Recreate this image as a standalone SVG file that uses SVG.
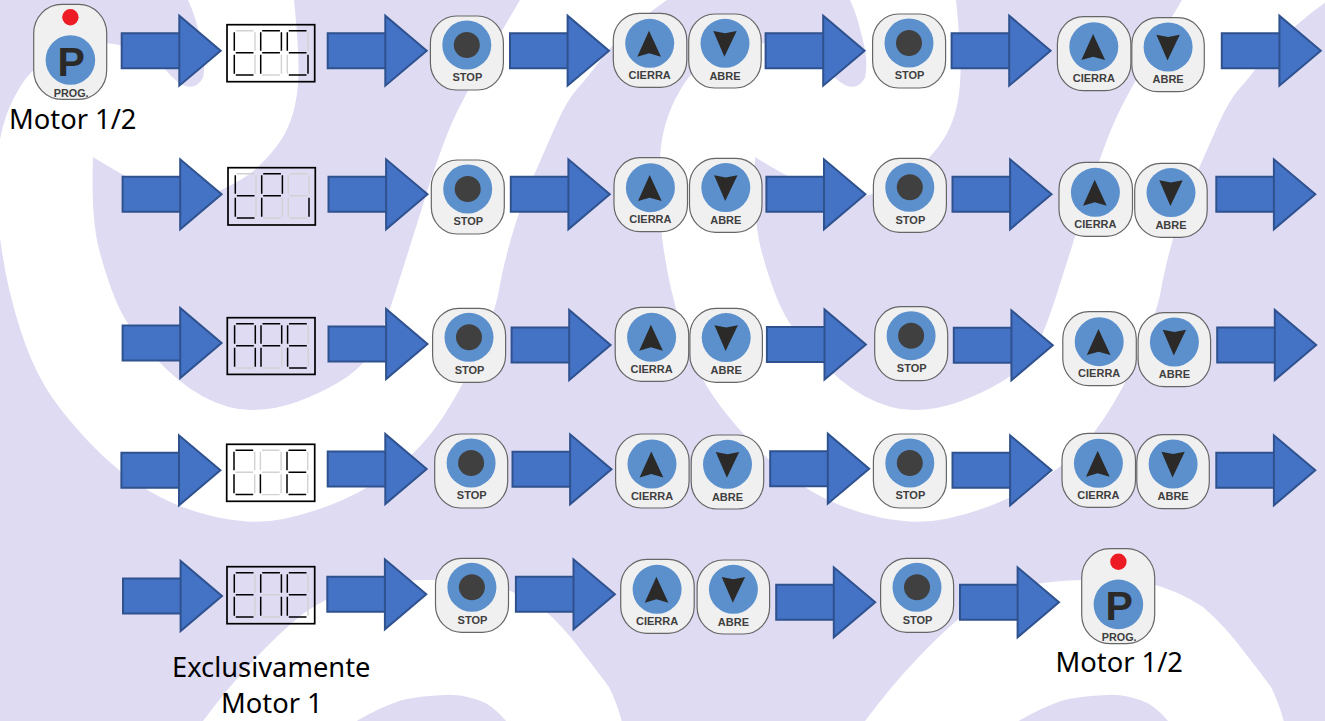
<svg xmlns="http://www.w3.org/2000/svg" width="1325" height="721" viewBox="0 0 1325 721">
<style>
.arr{fill:#4472c4;stroke:#2f528f;stroke-width:2;stroke-linejoin:miter}
.btn{fill:#f0f0f0;stroke:#666;stroke-width:1.2}
.blue{fill:#5b90cc}
.dark{fill:#404040}
.tri{fill:#2b2a29}
.red{fill:#ed1c24}
.lbl{font-family:"Liberation Sans",Arial,sans-serif;font-weight:700;font-size:11px;fill:#3f3f3f;text-anchor:middle}
.pg{font-family:"Liberation Sans",Arial,sans-serif;font-weight:700;font-size:41px;fill:#2b2a29;text-anchor:middle}
.cap{font-family:"Noto Sans",sans-serif;font-size:27.300px;fill:#000}
.frame{fill:none;stroke:#000;stroke-width:1.7}
.on{fill:none;stroke:#000;stroke-width:1.5}
.off{fill:none;stroke:#d2d2d2;stroke-width:1.4}
</style>
<defs>
<path id="tile" d="M188 0L188 -2L294 -2L294 0Q299 50 298.5 73.5Q298 97 292.5 115Q287 133 276.5 146.5Q266 160 254.5 170Q243 180 221 190Q199 200 179.5 196.5Q160 193 141 184Q122 175 93 157Q91 217 98.500 247Q106 277 116.500 302Q127 327 152.500 355Q178 383 203 396.500Q228 410 251.500 410Q275 410 298 401.500Q321 393 340 381.500Q359 370 369.500 355Q380 340 394 296.500Q408 253 424 201.500Q440 150 452.500 121.500Q465 93 520 0L520 -2L667 -2L667 0L653 10Q615 40 601.500 58.500Q588 77 577.500 88.500Q567 100 556 125Q545 150 532.500 178.500Q520 207 511.500 237Q503 267 499 290Q495 313 478 351.500Q461 390 442 418.500Q423 447 397.500 467Q372 487 342.500 500Q313 513 283.500 519Q254 525 218 517.500Q182 510 150 491.500Q118 473 88.500 441.500Q59 410 44.500 385.500Q30 361 19 325.500Q8 290 2.500 255Q-3 220 -3 195Q-3 170 -1.500 151.500Q0 133 6.500 115Q13 97 24 81Q35 65 60 54Q85 43 107 43Q140 47 160 62Q172 80 184 85.500Q196 90 203 78Q207 60 199 33Q195 15 188 0Z"/>
<path id="tile2" d="M203 722L203 721Q230 685 254 660Q280 632 304 613Q330 595 359 587Q390 580 423 580Q460 579 486 583Q515 590 541 607Q565 628 583 653Q598 672 609 687Q617 703 622 722L507 722Q492 704 478 700Q460 694 444 695Q420 696 402 700Q378 708 355 722Z"/>
<path id="arrow" class="arr" d="M0 17.500H57.600V-35L99 0L57.600 35V-17.500H0Z"/>
<g id="stopF"><rect class="btn" width="73" height="74" rx="26" ry="27"/><circle class="blue" cx="36.400" cy="29" r="24.500"/><circle class="dark" cx="36.400" cy="29" r="13"/></g>
<g id="upF"><rect class="btn" width="73.500" height="74" rx="26" ry="27"/><circle class="blue" cx="36.400" cy="30" r="24.500"/><path class="tri" d="M35.700 17.400L24 43.400L35.700 40L47.700 43.400Z"/></g>
<g id="dnF"><rect class="btn" width="72.500" height="74" rx="26" ry="27"/><circle class="blue" cx="36.300" cy="29.300" r="24.500"/><path class="tri" d="M24.600 17L36.300 19.300L48 17L35.700 42.700Z"/></g>
<g id="progF"><rect class="btn" width="73" height="95" rx="28" ry="29"/><circle class="red" cx="36.700" cy="13" r="8.200"/><circle class="blue" cx="36.700" cy="55.700" r="24.800"/></g>
<g id="dt"><path class="off" d="M1.500 0H19.200M20.700 1.500V20M20.700 24V43"/><path class="on" d="M1.500 22H19.200M1.500 44.300H19.200M0 1.500V20M0 24V43"/></g>
<g id="dP"><path class="off" d="M20.700 24V43M1.500 44.300H19.200"/><path class="on" d="M1.500 0H19.200M1.500 22H19.200M20.700 1.500V20M0 1.500V20M0 24V43"/></g>
<g id="dS"><path class="off" d="M20.700 1.500V20M0 24V43"/><path class="on" d="M1.500 0H19.200M1.500 22H19.200M1.500 44.300H19.200M0 1.500V20M20.700 24V43"/></g>
<g id="dc"><path class="off" d="M1.500 0H19.200M1.500 22H19.200M1.500 44.300H19.200M0 1.500V20M0 24V43M20.700 1.500V20"/><path class="on" d="M20.700 24V43"/></g>
<g id="dA"><path class="off" d="M1.500 44.300H19.200"/><path class="on" d="M1.500 0H19.200M1.500 22H19.200M0 1.500V20M0 24V43M20.700 1.500V20M20.700 24V43"/></g>
<g id="dE"><path class="off" d="M20.700 1.500V20M20.700 24V43"/><path class="on" d="M1.500 0H19.200M1.500 22H19.200M1.500 44.300H19.200M0 1.500V20M0 24V43"/></g>
<g id="dC"><path class="off" d="M1.500 22H19.200M20.700 1.500V20M20.700 24V43"/><path class="on" d="M1.500 0H19.200M1.500 44.300H19.200M0 1.500V20M0 24V43"/></g>
<g id="de"><path class="off" d="M1.500 0H19.200M1.500 22H19.200M1.500 44.300H19.200M0 1.500V20M20.700 1.500V20M20.700 24V43"/><path class="on" d="M0 24V43"/></g>
<g id="dn"><path class="off" d="M1.500 22H19.200M1.500 44.300H19.200"/><path class="on" d="M1.500 0H19.200M0 1.500V20M0 24V43M20.700 1.500V20M20.700 24V43"/></g>
</defs>

<g id="background">
<rect width="1325" height="721" fill="#dedbf3"/>
<g fill="#fff">
<use href="#tile"/><use href="#tile" x="662"/><use href="#tile2"/><use href="#tile2" x="662"/>
</g>
</g>

<g id="connectors">
<use href="#arrow" x="121.700" y="50.700"/><use href="#arrow" x="327.700" y="50.700"/><use href="#arrow" x="510" y="50.700"/><use href="#arrow" x="765.600" y="50.700"/><use href="#arrow" x="951.600" y="50.700"/><use href="#arrow" x="1221.800" y="50.700"/>
<use href="#arrow" x="122.600" y="194.300"/><use href="#arrow" x="328.500" y="194.300"/><use href="#arrow" x="510.800" y="194.300"/><use href="#arrow" x="766.400" y="194.300"/><use href="#arrow" x="952.500" y="194.300"/><use href="#arrow" x="1216.300" y="194.300"/>
<use href="#arrow" x="122.600" y="343"/><use href="#arrow" x="328.500" y="344"/><use href="#arrow" x="511.600" y="345"/><use href="#arrow" x="766.900" y="344.500"/><use href="#arrow" x="953.800" y="345.300"/><use href="#arrow" x="1217.200" y="345"/>
<use href="#arrow" x="121.400" y="470.300"/><use href="#arrow" x="327.700" y="469"/><use href="#arrow" x="512.500" y="469.300"/><use href="#arrow" x="770.200" y="468.700"/><use href="#arrow" x="952.500" y="470.300"/><use href="#arrow" x="1216.300" y="470.300"/>
<use href="#arrow" x="123" y="596"/><use href="#arrow" x="327.300" y="594.300"/><use href="#arrow" x="515.900" y="594.300"/><use href="#arrow" x="776.200" y="602.300"/><use href="#arrow" x="960" y="602.300"/>
</g>

<g id="prog-1" transform="translate(33.700 4.300)"><use href="#progF"/><text class="pg" x="37.500" y="71.500">P</text><text class="lbl" x="37.500" y="92.500" style="font-size:10.800px">PROG.</text></g>
<g id="display-1" transform="translate(227 24.700)"><rect class="frame" width="87.700" height="57"/><use href="#dt" x="7.300" y="6"/><use href="#dP" x="33.700" y="6"/><use href="#dS" x="60.300" y="6"/></g>
<g id="stop-1-1" transform="translate(430.400 16)"><use href="#stopF"/><text class="lbl" x="37" y="65.300">STOP</text></g>
<g id="cierra-1-1" transform="translate(613.300 13.300)"><use href="#upF"/><text class="lbl" x="36.400" y="65.500">CIERRA</text></g>
<g id="abre-1-1" transform="translate(688.700 14)"><use href="#dnF"/><text class="lbl" x="36.300" y="65.500">ABRE</text></g>
<g id="stop-1-2" transform="translate(872.600 14)"><use href="#stopF"/><text class="lbl" x="37" y="65.300">STOP</text></g>
<g id="cierra-1-2" transform="translate(1057.400 16.700)"><use href="#upF"/><text class="lbl" x="36.400" y="65.500">CIERRA</text></g>
<g id="abre-1-2" transform="translate(1131.800 17.700)"><use href="#dnF"/><text class="lbl" x="36.300" y="65.500">ABRE</text></g>

<g id="display-2" transform="translate(228 167.700)"><rect class="frame" width="87.300" height="57.300"/><use href="#dt" x="7.300" y="6"/><use href="#dP" x="33.700" y="6"/><use href="#dc" x="60.300" y="6"/></g>
<g id="stop-2-1" transform="translate(431.300 160)"><use href="#stopF"/><text class="lbl" x="37" y="65.300">STOP</text></g>
<g id="cierra-2-1" transform="translate(614 157.700)"><use href="#upF"/><text class="lbl" x="36.400" y="65.500">CIERRA</text></g>
<g id="abre-2-1" transform="translate(689.500 158.300)"><use href="#dnF"/><text class="lbl" x="36.300" y="65.500">ABRE</text></g>
<g id="stop-2-2" transform="translate(873.400 158.300)"><use href="#stopF"/><text class="lbl" x="37" y="65.300">STOP</text></g>
<g id="cierra-2-2" transform="translate(1059 162.300)"><use href="#upF"/><text class="lbl" x="36.400" y="65.500">CIERRA</text></g>
<g id="abre-2-2" transform="translate(1134.700 163.300)"><use href="#dnF"/><text class="lbl" x="36.300" y="65.500">ABRE</text></g>

<g id="display-3" transform="translate(227.300 317.700)"><rect class="frame" width="87.700" height="56.700"/><use href="#dA" x="7.300" y="6"/><use href="#dP" x="33.700" y="6"/><use href="#dE" x="60.300" y="6"/></g>
<g id="stop-3-1" transform="translate(432.600 308.300)"><use href="#stopF"/><text class="lbl" x="37" y="65.300">STOP</text></g>
<g id="cierra-3-1" transform="translate(615.200 307.300)"><use href="#upF"/><text class="lbl" x="36.400" y="65.500">CIERRA</text></g>
<g id="abre-3-1" transform="translate(689.900 308.300)"><use href="#dnF"/><text class="lbl" x="36.300" y="65.500">ABRE</text></g>
<g id="stop-3-2" transform="translate(874.700 306.700)"><use href="#stopF"/><text class="lbl" x="37" y="65.300">STOP</text></g>
<g id="cierra-3-2" transform="translate(1062.800 311.700)"><use href="#upF"/><text class="lbl" x="36.400" y="65.500">CIERRA</text></g>
<g id="abre-3-2" transform="translate(1138.100 312.700)"><use href="#dnF"/><text class="lbl" x="36.300" y="65.500">ABRE</text></g>

<g id="display-4" transform="translate(226.700 444.300)"><rect class="frame" width="88" height="57"/><use href="#dC" x="7.300" y="6"/><use href="#de" x="33.700" y="6"/><use href="#dE" x="60.300" y="6"/></g>
<g id="stop-4-1" transform="translate(434.700 434)"><use href="#stopF"/><text class="lbl" x="37" y="65.300">STOP</text></g>
<g id="cierra-4-1" transform="translate(615.600 434)"><use href="#upF"/><text class="lbl" x="36.400" y="65.500">CIERRA</text></g>
<g id="abre-4-1" transform="translate(691.200 435)"><use href="#dnF"/><text class="lbl" x="36.300" y="65.500">ABRE</text></g>
<g id="stop-4-2" transform="translate(873.400 434)"><use href="#stopF"/><text class="lbl" x="37" y="65.300">STOP</text></g>
<g id="cierra-4-2" transform="translate(1062 433.300)"><use href="#upF"/><text class="lbl" x="36.400" y="65.500">CIERRA</text></g>
<g id="abre-4-2" transform="translate(1136.800 434.700)"><use href="#dnF"/><text class="lbl" x="36.300" y="65.500">ABRE</text></g>

<g id="display-5" transform="translate(227 566.700)"><rect class="frame" width="87.700" height="57"/><use href="#dE" x="7.300" y="6"/><use href="#dn" x="33.700" y="6"/><use href="#dE" x="60.300" y="6"/></g>
<g id="stop-5-1" transform="translate(435.500 558.300)"><use href="#stopF"/><text class="lbl" x="37" y="65.300">STOP</text></g>
<g id="cierra-5-1" transform="translate(620.700 559.300)"><use href="#upF"/><text class="lbl" x="36.400" y="65.500">CIERRA</text></g>
<g id="abre-5-1" transform="translate(697.100 560)"><use href="#dnF"/><text class="lbl" x="36.300" y="65.500">ABRE</text></g>
<g id="stop-5-2" transform="translate(880.600 558.300)"><use href="#stopF"/><text class="lbl" x="37" y="65.300">STOP</text></g>
<g id="prog-2" transform="translate(1081.700 548.700)"><use href="#progF"/><text class="pg" x="37.500" y="71.500">P</text><text class="lbl" x="37.500" y="92.500" style="font-size:10.800px">PROG.</text></g>

<g id="labels">
<text class="cap" x="9" y="129.300">Motor 1/2</text>
<text class="cap" x="172" y="676.700">Exclusivamente</text>
<text class="cap" x="221" y="713">Motor 1</text>
<text class="cap" x="1055.500" y="671.700">Motor 1/2</text>
</g>
</svg>
